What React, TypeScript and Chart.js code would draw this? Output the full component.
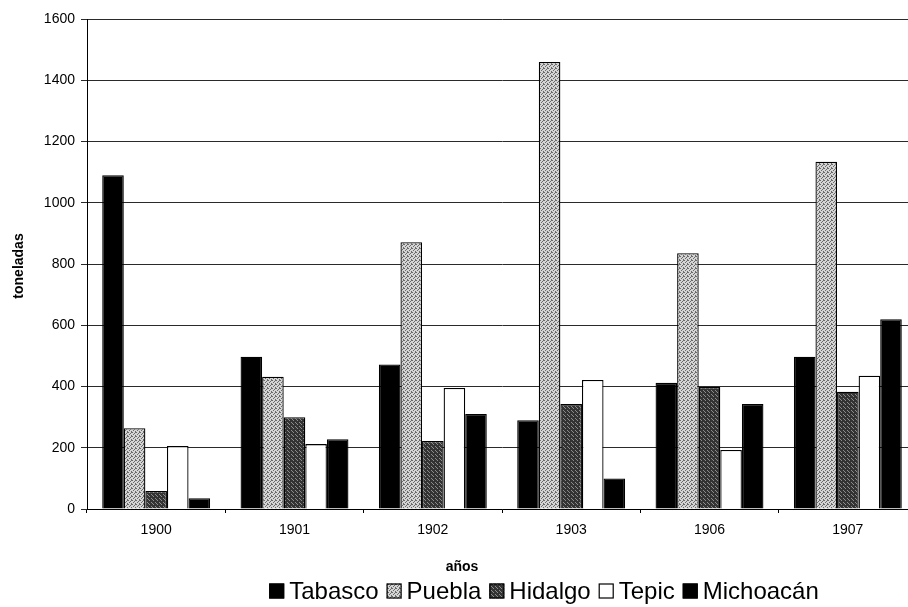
import React, { useEffect, useRef } from "react";
import { Chart, registerables } from "chart.js";

Chart.register(...registerables);

const categories = ["1900", "1901", "1902", "1903", "1906", "1907"];
const seriesNames = ["Tabasco", "Puebla", "Hidalgo", "Tepic", "Michoacán"];
const tabasco = [1090, 497, 472, 290, 412, 497];
const puebla = [264, 432, 871, 1460, 835, 1134];
const hidalgo = [59, 300, 222, 343, 398, 383];
const tepic = [206, 212, 395, 421, 193, 435];
const michoacan = [35, 228, 310, 100, 343, 620];
const yTicks = [0, 200, 400, 600, 800, 1000, 1200, 1400, 1600];
const xTitle = "años";
const yTitle = "toneladas";

const FONT = 'Arial, "Liberation Sans", sans-serif';

function makePattern(base: string, dot: string, pts: number[][]): CanvasPattern | string {
  const c = document.createElement("canvas");
  c.width = 4;
  c.height = 4;
  const g = c.getContext("2d");
  if (!g) return base;
  g.fillStyle = base;
  g.fillRect(0, 0, 4, 4);
  g.fillStyle = dot;
  pts.forEach(([x, y]) => g.fillRect(x, y, 1, 1));
  const p = g.createPattern(c, "repeat");
  return p || base;
}

export default function App() {
  const ref = useRef<HTMLCanvasElement | null>(null);

  useEffect(() => {
    if (!ref.current) return;
    const pueblaFill = makePattern("#d4d4d4", "#6a6a6a", [[0, 0], [2, 1], [1, 2], [3, 3], [3, 0]]);
    const hidalgoFill = makePattern("#333333", "#8c8c8c", [[1, 0], [3, 2], [0, 3]]);
    const fills: any[] = ["#000000", pueblaFill, hidalgoFill, "#ffffff", "#000000"];
    const values = [tabasco, puebla, hidalgo, tepic, michoacan];

    const extras = {
      id: "extras",
      afterDraw(chart: any) {
        const ctx = chart.ctx;
        const area = chart.chartArea;
        ctx.save();
        ctx.fillStyle = "#000";
        // x title
        ctx.font = `bold 14px ${FONT}`;
        ctx.textAlign = "center";
        ctx.textBaseline = "middle";
        ctx.fillText(xTitle, 462, 567);
        // y title
        ctx.save();
        ctx.translate(19, (area.top + area.bottom) / 2 + 2);
        ctx.rotate(-Math.PI / 2);
        ctx.fillText(yTitle, 0, 0);
        ctx.restore();
        // legend
        ctx.font = `24px ${FONT}`;
        const box = 15;
        const gap = 5;
        const spacing = 8;
        const widths = seriesNames.map((n) => ctx.measureText(n).width);
        const total = widths.reduce((a, w) => a + w + box + gap, 0) + spacing * (seriesNames.length - 1);
        let x = 544 - total / 2;
        const cy = 591;
        ctx.textAlign = "left";
        seriesNames.forEach((n, i) => {
          ctx.fillStyle = fills[i];
          ctx.fillRect(x, cy - box / 2, box, box);
          ctx.strokeStyle = "#000";
          ctx.lineWidth = 1.2;
          ctx.strokeRect(x + 0.5, cy - box / 2 + 0.5, box - 1, box - 1);
          ctx.fillStyle = "#000";
          ctx.fillText(n, x + box + gap, cy + 1);
          x += box + gap + widths[i] + spacing;
        });
        ctx.restore();
      },
    };

    const chart = new Chart(ref.current, {
      type: "bar",
      data: {
        labels: categories,
        datasets: seriesNames.map((name, i) => ({
          label: name,
          data: values[i],
          backgroundColor: fills[i],
          borderColor: "#000000",
          borderWidth: 1.3,
          categoryPercentage: 0.78,
          barPercentage: 1.0,
        })),
      },
      options: {
        responsive: false,
        animation: false,
        devicePixelRatio: 1,
        layout: { padding: { top: 19, right: 8, left: 0, bottom: 0 } },
        plugins: {
          legend: { display: false },
          tooltip: { enabled: false },
          title: { display: false },
        },
        scales: {
          x: {
            offset: true,
            grid: { display: true, drawOnChartArea: false, drawTicks: true, tickLength: 4, color: "#000", offset: true },
            border: { display: true, color: "#000", width: 1 },
            ticks: { color: "#000", font: { family: FONT, size: 14 }, padding: 9 },
            afterFit: (s: any) => {
              s.height = 98;
            },
          },
          y: {
            min: 0,
            max: 1600,
            afterBuildTicks: (s: any) => {
              s.ticks = yTicks.map((v) => ({ value: v }));
            },
            grid: { color: "#2a2a2a", lineWidth: 1, drawTicks: true, tickLength: 6 },
            border: { display: true, color: "#000", width: 1 },
            ticks: {
              color: "#000",
              font: { family: FONT, size: 14 },
              padding: 6,
              callback: (v: any) => String(v),
            },
            afterFit: (s: any) => {
              s.width = 87;
            },
          },
        },
      },
      plugins: [extras],
    });
    return () => chart.destroy();
  }, []);

  return (
    <div style={{ position: "fixed", left: 0, top: 0, width: 908, height: 607, overflow: "hidden", background: "#fff" }}>
      <canvas ref={ref} width={925} height={607} style={{ display: "block" }} />
    </div>
  );
}
